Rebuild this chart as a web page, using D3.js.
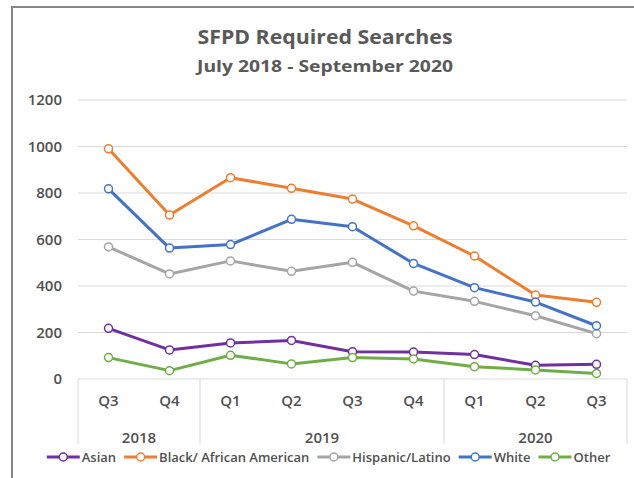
<!DOCTYPE html>
<html>
<head>
<meta charset="utf-8">
<script src="https://cdn.jsdelivr.net/npm/d3@7"></script>
<style>
    body { margin: 0; background: #fff; }
    svg text { font-family: "Open Sans", "Noto Sans", sans-serif; }
</style>
</head>
<body>
<div id="container"></div>
<script>
// quarters along the x axis, grouped by year
const quarters = ["Q3", "Q4", "Q1", "Q2", "Q3", "Q4", "Q1", "Q2", "Q3"];
const yearLabels = ["2018", "2019", "2020"];
const yearSpans = [2, 4, 3];

const yTicks = [0, 200, 400, 600, 800, 1000, 1200];

// searches per quarter
const seriesNames = ["Asian", "Black/ African American", "Hispanic/Latino", "White", "Other"];
const asian    = [218, 125, 155, 166, 117, 116, 105, 59, 63];
const black    = [990, 705, 866, 820, 774, 659, 529, 361, 330];
const hispanic = [568, 452, 508, 463, 502, 378, 334, 272, 195];
const white    = [818, 563, 578, 687, 655, 497, 393, 331, 229];
const other    = [92, 36, 102, 65, 92, 86, 53, 39, 24];
const seriesColors = ["#7030a0", "#ed7d31", "#a5a5a5", "#4472c4", "#70ad47"];

const seriesValues = [asian, black, hispanic, white, other];

const width = 634;
const height = 478;
const marginLeft = 78;
const plotRight = 627;
const plotTop = 100;
const plotBottom = 379;
const labelColor = "#505050";

const svg = d3.select("#container").append("svg")
    .attr("width", width)
    .attr("height", height);

// chart frame (cut off on the right and bottom in the original)
svg.append("rect")
    .attr("x", 12).attr("y", 7)
    .attr("width", 700).attr("height", 600)
    .attr("fill", "#fff")
    .attr("stroke", "#878787")
    .attr("stroke-width", 2);

// title
svg.append("text")
    .attr("x", 325).attr("y", 44)
    .attr("text-anchor", "middle")
    .style("font-size", "20px").style("font-weight", "bold")
    .attr("fill", "#595959")
    .attr("textLength", 255).attr("lengthAdjust", "spacingAndGlyphs")
    .text("SFPD Required Searches");

svg.append("text")
    .attr("x", 325).attr("y", 72)
    .attr("text-anchor", "middle")
    .style("font-size", "16px").style("font-weight", "bold")
    .attr("fill", "#595959")
    .attr("textLength", 256).attr("lengthAdjust", "spacingAndGlyphs")
    .text("July 2018 - September 2020");

const x = d3.scaleBand()
    .domain(d3.range(quarters.length))
    .range([marginLeft, plotRight]);

const y = d3.scaleLinear()
    .domain([0, 1200])
    .range([plotBottom, plotTop]);

// gridlines
svg.append("g")
    .selectAll("line")
    .data(yTicks)
    .join("line")
    .attr("x1", marginLeft).attr("x2", plotRight)
    .attr("y1", d => y(d)).attr("y2", d => y(d))
    .attr("stroke", "#d9d9d9")
    .attr("stroke-width", 1);

// y axis labels
const yAxis = svg.append("g")
    .attr("transform", `translate(${marginLeft - 16},0)`)
    .call(d3.axisLeft(y).tickValues(yTicks).tickFormat(d3.format("d")).tickSize(0).tickPadding(0));
yAxis.select(".domain").remove();
yAxis.selectAll("text")
    .style("font-size", "15px")
    .style("font-weight", "600")
    .attr("fill", labelColor);

// category axis: quarter labels and year groups
const xAxis = svg.append("g")
    .attr("transform", `translate(0,${plotBottom})`)
    .call(d3.axisBottom(x).tickSize(0).tickPadding(16).tickFormat(i => quarters[i]));
xAxis.select(".domain").remove();
xAxis.selectAll("text")
    .style("font-size", "15px")
    .style("font-weight", "600")
    .attr("fill", labelColor);

// year group separators
let boundaries = [0];
yearSpans.forEach(n => boundaries.push(boundaries[boundaries.length - 1] + n));
svg.append("g")
    .selectAll("line")
    .data(boundaries)
    .join("line")
    .attr("x1", d => d < quarters.length ? x(d) : x.range()[1])
    .attr("x2", d => d < quarters.length ? x(d) : x.range()[1])
    .attr("y1", plotBottom).attr("y2", 444)
    .attr("stroke", "#d9d9d9")
    .attr("stroke-width", 1);

svg.append("g")
    .selectAll("text")
    .data(yearLabels)
    .join("text")
    .attr("x", (d, i) => {
        const a = x(boundaries[i]);
        const b = boundaries[i + 1] < quarters.length ? x(boundaries[i + 1]) : x.range()[1];
        return (a + b) / 2;
    })
    .attr("y", 443)
    .attr("text-anchor", "middle")
    .style("font-size", "15px")
    .style("font-weight", "600")
    .attr("fill", labelColor)
    .text(d => d);

// lines + markers
const line = d3.line()
    .x((d, i) => x(i) + x.bandwidth() / 2)
    .y(d => y(d));

seriesValues.forEach((values, s) => {
    svg.append("path")
        .datum(values)
        .attr("fill", "none")
        .attr("stroke", seriesColors[s])
        .attr("stroke-width", 3)
        .attr("stroke-linejoin", "round")
        .attr("d", line);
});

seriesValues.forEach((values, s) => {
    svg.append("g")
        .selectAll("circle")
        .data(values)
        .join("circle")
        .attr("cx", (d, i) => x(i) + x.bandwidth() / 2)
        .attr("cy", d => y(d))
        .attr("r", 4)
        .attr("fill", "#fff")
        .attr("stroke", seriesColors[s])
        .attr("stroke-width", 1.5);
});

// legend
const legend = svg.append("g");
const legendY = 457;
let cursor = 0;
seriesNames.forEach((name, s) => {
    const g = legend.append("g");
    g.append("line")
        .attr("x1", 0).attr("x2", 33)
        .attr("y1", 0).attr("y2", 0)
        .attr("stroke", seriesColors[s]).attr("stroke-width", 3);
    g.append("circle")
        .attr("cx", 16.5).attr("cy", 0).attr("r", 4)
        .attr("fill", "#fff")
        .attr("stroke", seriesColors[s]).attr("stroke-width", 1.5);
    const t = g.append("text")
        .attr("x", 35).attr("y", 0)
        .attr("dy", "0.35em")
        .style("font-size", "13px")
        .style("font-weight", "600")
        .attr("fill", labelColor)
        .text(name);
    const w = 35 + t.node().getComputedTextLength();
    g.attr("transform", `translate(${cursor},${legendY})`);
    cursor += w + 8;
});
const legendWidth = cursor - 8;
legend.attr("transform", `translate(${328.5 - legendWidth / 2},0)`);
</script>
</body>
</html>
